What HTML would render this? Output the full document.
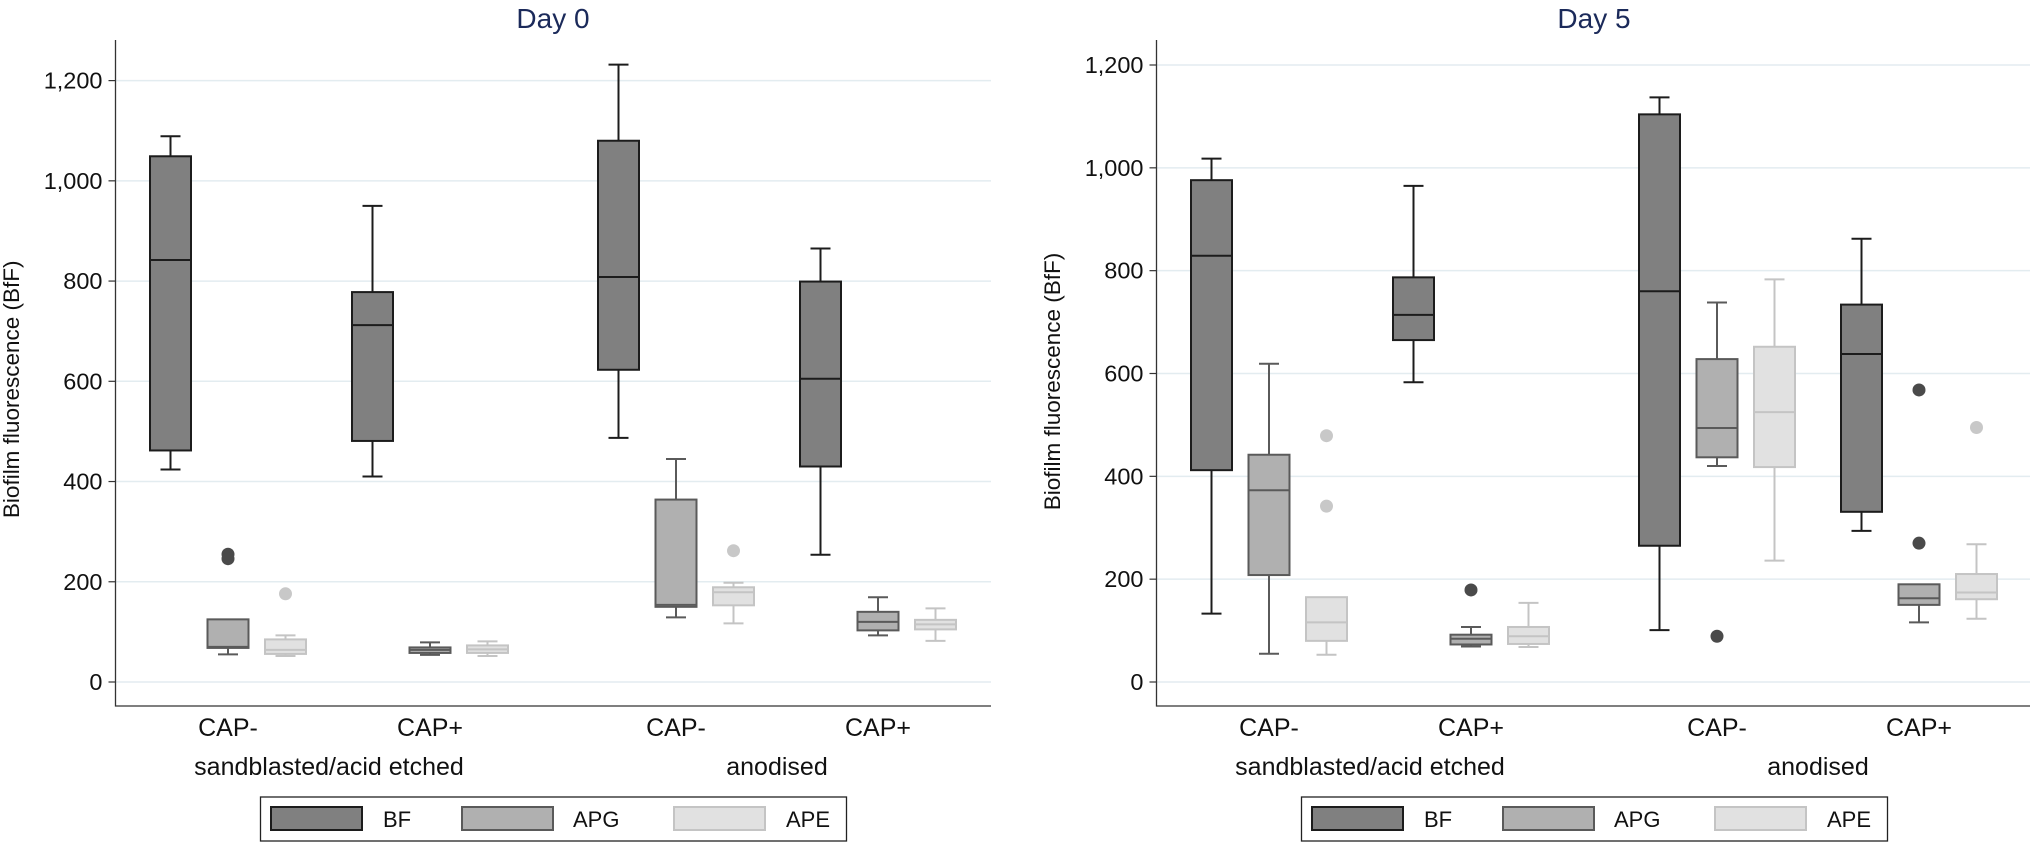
<!DOCTYPE html>
<html><head><meta charset="utf-8"><style>
html,body{margin:0;padding:0;background:#fff;}
svg{display:block;font-family:"Liberation Sans",sans-serif;}
</style></head><body>
<svg id="chart" width="2030" height="843" viewBox="0 0 2030 843" xmlns="http://www.w3.org/2000/svg"></svg>
<script>
const panels = ["Day 0", "Day 5"];
const surfaces = ["sandblasted/acid etched", "anodised"];
const caps = ["CAP-", "CAP+", "CAP-", "CAP+"];
const seriesNames = ["BF", "APG", "APE"];
const yTicks = [0, 200, 400, 600, 800, 1000, 1200];
const yTickLabels = ["0", "200", "400", "600", "800", "1,000", "1,200"];
// Each entry: [low whisker, q1, median, q3, high whisker]; order per group: BF, APG, APE
const day0Boxes = [
  [[424,462,842,1049,1089],[55,68,70,125,125],[52,56,64,85,93]],
  [[410,481,712,778,950],[54,58,64,69,79],[52,58,65,73,81]],
  [[487,623,808,1080,1232],[129,150,154,364,445],[117,153,179,189,198]],
  [[254,430,605,799,865],[93,103,120,140,169],[82,105,115,124,147]]
];
const day0Outliers = [
  [[],[255,246],[176]],
  [[],[],[]],
  [[],[],[262]],
  [[],[],[]]
];
const day5Boxes = [
  [[133,412,829,976,1018],[55,208,373,442,619],[53,80,116,165,165]],
  [[583,665,714,787,965],[69,73,84,92,107],[68,74,89,107,154]],
  [[101,265,760,1104,1137],[420,437,494,628,738],[236,418,525,652,783]],
  [[294,331,638,734,862],[116,150,163,190,190],[123,161,174,210,268]]
];
const day5Outliers = [
  [[],[],[479,342]],
  [[],[179],[]],
  [[],[89],[]],
  [[],[270,568],[495]]
];

const NS = "http://www.w3.org/2000/svg";
const svg = document.getElementById("chart");
function mk(tag, attrs, parent, text){
  const e = document.createElementNS(NS, tag);
  for (const k in attrs) e.setAttribute(k, attrs[k]);
  if (text !== undefined) e.textContent = text;
  (parent||svg).appendChild(e);
  return e;
}
const fills = ["#808080", "#b0b0b0", "#e1e1e1"];
const strokes = ["#1c1c1c", "#5a5a5a", "#c4c4c4"];
const outColors = ["#4a4a4a", "#4a4a4a", "#c8c8c8"];
const groupCenters = [228, 430, 676, 878];
const seriesOffset = [-57.5, 0, 57.5];
const boxW = 41;

function drawPanel(pi, boxes, outliers, dx, yTop){
  const g = mk("g", {});
  
  
  const axL = 115.5 + dx, axR = 991 + dx, y0 = 682;
  const yScale = v => y0 - (v / 1200) * (y0 - yTop);
  const t = mk("text", {x: 553 + dx, y: 28, "text-anchor": "middle", "font-size": 28, fill: "#1b2a5a"}, g, panels[pi]);
  
  
  yTicks.forEach((v, i) => {
    const y = yScale(v);
    const gl = mk("line", {x1: axL, x2: axR, y1: y, y2: y, stroke: "#e3ecf0", "stroke-width": 1.5}, g);
    
    
    mk("line", {x1: axL - 7, x2: axL, y1: y, y2: y, stroke: "#333", "stroke-width": 1.2}, g);
    const tl = mk("text", {x: axL - 13, y: y + 8, "text-anchor": "end", "font-size": 23.5, fill: "#111"}, g, yTickLabels[i]);
    
    
  });
  const ax = mk("path", {d: `M${axL},40 V706 H${axR}`, fill: "none", stroke: "#333", "stroke-width": 1.3}, g);
  
  
  const yl = mk("text", {x: 0, y: 0, transform: `translate(${19 + dx},${yScale(600) + 8}) rotate(-90)`, "text-anchor": "middle", "font-size": 22.5, fill: "#111"}, g, "Biofilm fluorescence (BfF)");
  
  
  boxes.forEach((grp, gi) => {
    grp.forEach((b, si) => {
      const cx = groupCenters[gi] + seriesOffset[si] + dx;
      const bg = mk("g", {}, g);
      
      
      const sw = 2;
      const [lo, q1, md, q3, hi] = b.map(yScale);
      if (lo !== q1) {
        mk("line", {x1: cx, x2: cx, y1: q1, y2: lo, stroke: strokes[si], "stroke-width": sw}, bg);
        mk("line", {x1: cx - 10, x2: cx + 10, y1: lo, y2: lo, stroke: strokes[si], "stroke-width": sw}, bg);
      }
      if (hi !== q3) {
        mk("line", {x1: cx, x2: cx, y1: q3, y2: hi, stroke: strokes[si], "stroke-width": sw}, bg);
        mk("line", {x1: cx - 10, x2: cx + 10, y1: hi, y2: hi, stroke: strokes[si], "stroke-width": sw}, bg);
      }
      mk("rect", {x: cx - boxW / 2, y: q3, width: boxW, height: Math.max(q1 - q3, 1), fill: fills[si], stroke: strokes[si], "stroke-width": sw}, bg);
      mk("line", {x1: cx - boxW / 2, x2: cx + boxW / 2, y1: md, y2: md, stroke: strokes[si], "stroke-width": sw}, bg);
      outliers[gi][si].forEach(v => {
        const c = mk("circle", {cx: cx, cy: yScale(v), r: 6.5, fill: outColors[si]}, g);
        
        
      });
    });
    const cl = mk("text", {x: groupCenters[gi] + dx, y: 736, "text-anchor": "middle", "font-size": 25, fill: "#111"}, g, caps[gi]);
    
    
  });
  surfaces.forEach((s, i) => {
    const sl = mk("text", {x: (i === 0 ? 329 : 777) + dx, y: 775, "text-anchor": "middle", "font-size": 25, fill: "#111"}, g, s);
    
    
  });
  const lg = mk("g", {}, g);
  
  
  mk("rect", {x: 260.5 + dx, y: 797, width: 586, height: 44, fill: "#fff", stroke: "#222", "stroke-width": 1.3}, lg);
  const swX = [271, 462, 674], txX = [383, 573, 786];
  seriesNames.forEach((n, si) => {
    const le = mk("g", {}, lg);
    
    
    mk("rect", {x: swX[si] + dx, y: 807, width: 91, height: 23, fill: fills[si], stroke: strokes[si], "stroke-width": 2}, le);
    mk("text", {x: txX[si] + dx, y: 827, "font-size": 22, fill: "#111"}, le, n);
  });
}
drawPanel(0, day0Boxes, day0Outliers, 0, 80.6);
drawPanel(1, day5Boxes, day5Outliers, 1041, 65);
</script>
</body></html>
